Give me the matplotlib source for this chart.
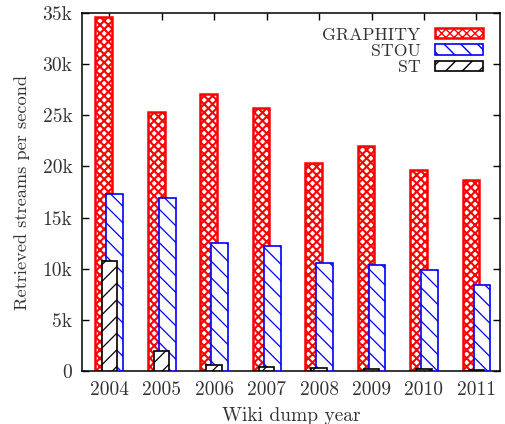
import matplotlib
matplotlib.use('Agg')
import matplotlib.pyplot as plt
import numpy as np

plt.rcParams['font.family'] = ['cmr10', 'DejaVu Serif']
plt.rcParams['axes.formatter.use_mathtext'] = True

years = ['2004', '2005', '2006', '2007', '2008', '2009', '2010', '2011']
graphity = [34580, 25290, 27050, 25740, 20300, 22000, 19650, 18670]
stou = [17270, 16880, 12500, 12200, 10550, 10350, 9870, 8400]
st = [10780, 1950, 600, 350, 300, 200, 150, 100]

yticks = [0, 5000, 10000, 15000, 20000, 25000, 30000, 35000]
ytick_labels = ['0', '5k', '10k', '15k', '20k', '25k', '30k', '35k']

fig = plt.figure(figsize=(5.05, 4.24), dpi=100)
ax = fig.add_axes([82/505, 1 - 371/424, 418/505, 358/424])

x = np.arange(len(years))
w = 0.32
off = 0.105
with plt.rc_context({'hatch.linewidth': 1.5}):
    ax.bar(x - off, graphity, w, facecolor='white', edgecolor='#ff0000',
           hatch='xxxx', linewidth=1.8, label='GRAPHITY', zorder=2)
with plt.rc_context({'hatch.linewidth': 0.9}):
    ax.bar(x + off, stou, w, facecolor='white', edgecolor='#0000ff',
           hatch='\\\\', linewidth=1.2, label='STOU', zorder=3)
    ax.bar(x, st, w * 0.92, facecolor='white', edgecolor='black',
           hatch='//', linewidth=1.2, label='ST', zorder=4)

ax.set_xlim(-0.52, 7.45)
ax.set_ylim(0, 35000)
ax.set_xticks(x)
ax.set_xticklabels(years)
ax.set_yticks(yticks)
ax.set_yticklabels(ytick_labels)
ax.tick_params(direction='in', top=True, right=True, length=5, width=1,
               labelsize=14, colors='black', pad=7)
for lbl in ax.get_xticklabels() + ax.get_yticklabels():
    lbl.set_color('#333333')
for s in ax.spines.values():
    s.set_linewidth(1.1)

ax.set_xlabel('Wiki dump year', fontsize=14, color='#333333', labelpad=6)
ax.set_ylabel('Retrieved streams per second', fontsize=13.2, color='#333333', labelpad=9)

leg = ax.legend(loc='upper right', bbox_to_anchor=(0.972, 0.975),
                markerfirst=False, frameon=False,
                fontsize=12.8, handlelength=2.7, handleheight=0.5,
                labelspacing=0.05, borderaxespad=0, handletextpad=0.8,
                borderpad=0.3)
for t in leg.get_texts():
    t.set_color('#333333')

fig.savefig('out.png', dpi=100)
